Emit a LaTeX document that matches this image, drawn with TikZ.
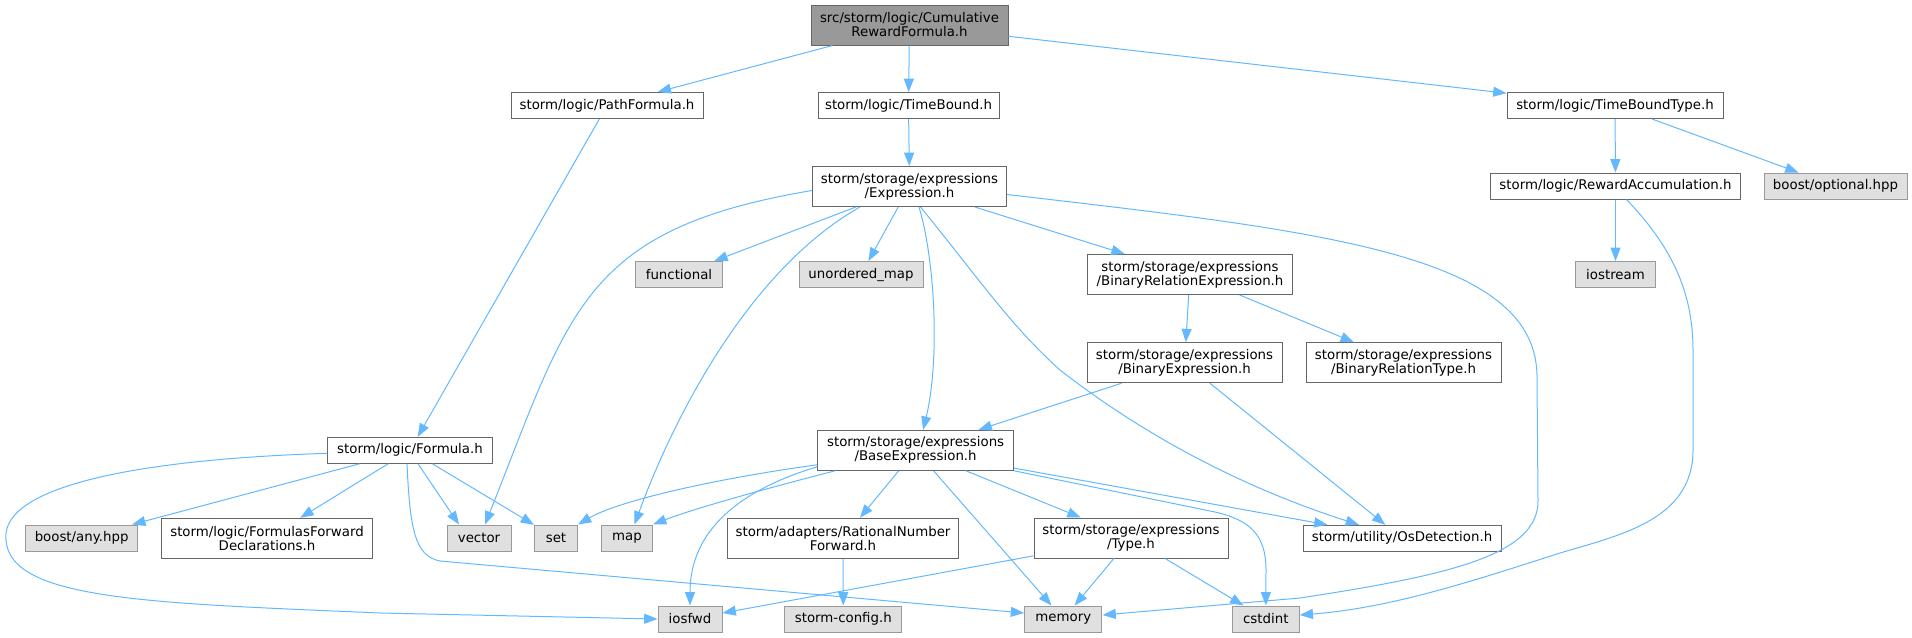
\documentclass[tikz,border=0pt]{standalone}
\usepackage{fontspec}
\setmainfont{DejaVu Sans}
\usetikzlibrary{arrows.meta, calc}
\definecolor{DxEdge}{RGB}{99,184,255}
\definecolor{DxLine}{RGB}{102,102,102}
\definecolor{DxLeaf}{RGB}{224,224,224}
\definecolor{DxLeafLine}{RGB}{153,153,153}
\definecolor{DxRoot}{RGB}{153,153,153}

\begin{document}
\begin{tikzpicture}[x=0.75pt, y=-0.75pt,
          hdr/.style={rectangle, draw=DxLine, fill=white, line width=0.75pt,
                      inner xsep=0pt, inner ysep=0pt, minimum height=19.5pt,
                      font=\fontsize{10pt}{10.5pt}\selectfont, align=center},
          hdrtwo/.style={hdr, minimum height=30pt},
          sys/.style={hdr, draw=DxLeafLine, fill=DxLeaf},
          dep/.style={-{Triangle[length=10pt, width=7.5pt]}, draw=DxEdge,
                      line width=0.75pt}
        ]
        \useasboundingbox (0,0) rectangle (1912,637);

        % Included file
        \node[hdrtwo, fill=DxRoot, minimum width=147.75pt] (root) at (909.5,25)
              {src/storm/logic/Cumulative\\RewardFormula.h};

        % Direct includes
        \node[hdr, minimum width=144pt]    (pathf)  at (607,105.5)  {storm/logic/PathFormula.h};
        \node[hdr, minimum width=135.75pt] (tbound) at (908.5,105.5) {storm/logic/TimeBound.h};
        \node[hdr, minimum width=162pt]    (tbtype) at (1615,105.5) {storm/logic/TimeBoundType.h};

        \node[hdrtwo, minimum width=145.5pt] (expr) at (909.5,186.5)
              {storm/storage/expressions\\/Expression.h};
        \node[hdr, minimum width=187.5pt] (rewacc) at (1615.5,186)
              {storm/logic/RewardAccumulation.h};
        \node[sys, minimum width=107.25pt] (optional) at (1835.5,186) {boost/optional.hpp};

        \node[sys, minimum width=65.25pt] (functional) at (679,274.5) {functional};
        \node[sys, minimum width=93pt]    (umap)       at (861,274.5) {unordered\_map};
        \node[hdrtwo, minimum width=153.75pt] (binrelexpr) at (1190,274.5)
              {storm/storage/expressions\\/BinaryRelationExpression.h};
        \node[sys, minimum width=60pt] (iostream) at (1615.5,274.5) {iostream};

        \node[hdrtwo, minimum width=146.25pt] (binexpr) at (1184.5,362.7)
              {storm/storage/expressions\\/BinaryExpression.h};
        \node[hdrtwo, minimum width=146.25pt] (binreltype) at (1403.5,362.7)
              {storm/storage/expressions\\/BinaryRelationType.h};

        \node[hdr, minimum width=123.4pt] (formula) at (410,450.3) {storm/logic/Formula.h};
        \node[hdrtwo, minimum width=147pt] (baseexpr) at (915.6,450.3)
              {storm/storage/expressions\\/BaseExpression.h};

        % Bottom rows
        \node[sys, minimum width=84pt] (anyhpp) at (81.6,538) {boost/any.hpp};
        \node[hdrtwo, minimum width=158.25pt] (ffd) at (267,538.3)
              {storm/logic/FormulasForward\\Declarations.h};
        \node[sys, minimum width=48pt]    (vector) at (479,538) {vector};
        \node[sys, minimum width=32.25pt] (set)    at (556,538) {set};
        \node[sys, minimum width=38.25pt] (map)    at (627,538) {map};
        \node[hdrtwo, minimum width=173.25pt] (ratnum) at (843,538.3)
              {storm/adapters/RationalNumber\\Forward.h};
        \node[hdrtwo, minimum width=145.5pt] (type) at (1131,538)
              {storm/storage/expressions\\/Type.h};
        \node[hdr, minimum width=148.5pt] (osdet) at (1402,538.3) {storm/utility/OsDetection.h};

        \node[sys, minimum width=48pt]    (iosfwd)   at (690,619)    {iosfwd};
        \node[sys, minimum width=87.75pt] (stormcfg) at (843.3,619)  {storm-config.h};
        \node[sys, minimum width=58pt]    (memory)   at (1063.3,619) {memory};
        \node[sys, minimum width=50pt]    (cstdint)  at (1265.8,619) {cstdint};

        % Straight edges
        \draw[dep] (root) -- (pathf);
        \draw[dep] (root) -- (tbound);
        \draw[dep] (root) -- (tbtype);
        \draw[dep] (pathf) -- (formula);
        \draw[dep] (tbound) -- (expr);
        \draw[dep] (tbtype) -- (rewacc);
        \draw[dep] (tbtype) -- (optional);
        \draw[dep] (rewacc) -- (iostream);
        \draw[dep] (expr) -- (functional);
        \draw[dep] (expr) -- (umap);
        \draw[dep] (expr) -- (binrelexpr);
        \draw[dep] (binrelexpr) -- (binexpr);
        \draw[dep] (binrelexpr) -- (binreltype);
        \draw[dep] (binexpr) -- (baseexpr);
        \draw[dep] (binexpr) -- (osdet);
        \draw[dep] (formula) -- (anyhpp);
        \draw[dep] (formula) -- (ffd);
        \draw[dep] (formula) -- (set);
        \draw[dep] ($(formula.south)+(8,0)$) -- ($(vector.north)+(-20,0)$);
        \draw[dep] (baseexpr) -- (ratnum);
        \draw[dep] (baseexpr) -- (memory);
        \draw[dep] (baseexpr) -- (type);
        \draw[dep] (baseexpr) -- (osdet);
        \draw[dep] (ratnum) -- (stormcfg);
        \draw[dep] (type) -- (iosfwd);
        \draw[dep] (type) -- (memory);
        \draw[dep] (type) -- (cstdint);

        % Curved edges
        \draw[dep] ($(expr.west)+(0,4)$) .. controls (582,229) and (570,311)
              .. ($(vector.north)+(6,0)$);
        \draw[dep] ($(expr.south)+(-49.5,0)$) .. controls (747,271) and (672,422)
              .. ($(map.north)+(7.5,0)$);
        \draw[dep] ($(expr.south)+(9.5,0)$) .. controls (935,260) and (940,360)
              .. ($(baseexpr.north)+(7.5,0)$);
        \draw[dep] ($(expr.south)+(11,0)$) .. controls (980,280) and (1010,325)
              .. (1060,370) .. controls (1150,440) and (1250,490)
              .. ($(osdet.north)+(-43,0)$);
        \draw[dep] ($(expr.east)+(0,8)$) .. controls (1330,232) and (1540,255)
              .. (1537,380) -- (1538,500) .. controls (1539,555) and (1450,575)
              .. (1300,598) -- ($(memory.east)+(0,-4)$);
        \draw[dep] ($(rewacc.south)+(11,0)$) .. controls (1670,245) and (1693,290)
              .. (1693,350) -- (1693,450) .. controls (1693,520) and (1620,535)
              .. (1560,553) .. controls (1470,582) and (1390,608)
              .. ($(cstdint.east)+(0,-4)$);
        \draw[dep] ($(formula.west)+(0,3)$) .. controls (120,460) and (0,490)
              .. (6,540) .. controls (10,600) and (150,603) .. (380,613)
              -- (iosfwd.west);
        \draw[dep] ($(formula.south)+(-3,0)$) .. controls (410,530) and (415,556)
              .. (440,561) -- ($(memory.west)+(0,-6)$);
        \draw[dep] ($(baseexpr.south west)+(0,-6)$) .. controls (720,478) and (620,500)
              .. (set.north east);
        \draw[dep] ($(baseexpr.south west)+(18,0)$) .. controls (760,490) and (690,510)
              .. (map.north east);
        \draw[dep] ($(baseexpr.south west)+(0,-4)$) .. controls (740,490) and (690,530)
              .. (iosfwd.north);
        \draw[dep] (baseexpr.south east) -- (1215,512) .. controls (1250,520) and (1266,535)
              .. (1266,570) -- (cstdint.north);
      \end{tikzpicture}
\end{document}
